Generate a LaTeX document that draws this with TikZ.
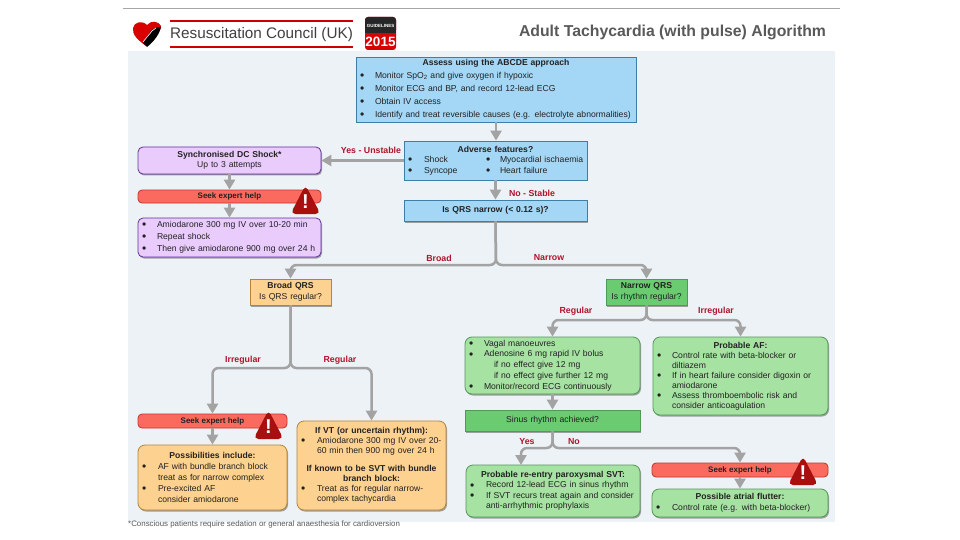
\documentclass[tikz,border=0pt]{standalone}
\usepackage{fontspec}
\setmainfont{Liberation Sans}
\usetikzlibrary{arrows.meta, shadows}

\definecolor{panelbg}{HTML}{EDF2F6}
\definecolor{bluefill}{HTML}{A3D7F5}
\definecolor{blueline}{HTML}{3C7FA8}
\definecolor{purplefill}{HTML}{E9CBFC}
\definecolor{purpleline}{HTML}{63309C}
\definecolor{seekfill}{HTML}{FB6A5E}
\definecolor{seekline}{HTML}{C0352C}
\definecolor{orangefill}{HTML}{FDD18F}
\definecolor{orangeline}{HTML}{B5843A}
\definecolor{greenfill}{HTML}{A6E2A2}
\definecolor{greenline}{HTML}{4F9A55}
\definecolor{greendark}{HTML}{6BCB70}
\definecolor{flowgray}{HTML}{A3A3A3}
\definecolor{labelred}{HTML}{B0142A}
\definecolor{warnred}{HTML}{A81010}
\definecolor{textdark}{HTML}{222222}

\newcommand{\bl}[1][15]{\makebox[#1pt][l]{\raisebox{-1.2pt}[0pt][0pt]{\fontsize{12}{0}\selectfont\textbullet}}}
\newcommand{\ctr}[1]{\makebox[\linewidth]{#1}}

\tikzset{
  box/.style={draw, line width=0.8pt, inner xsep=4pt, inner ysep=0pt, align=left, text=textdark,
    font=\fontsize{8.6}{12}\selectfont,
    drop shadow={shadow xshift=1pt, shadow yshift=-1.5pt, fill=black!60, opacity=0.6}},
  bluebox/.style={box, fill=bluefill, draw=blueline},
  purplebox/.style={box, fill=purplefill, draw=purpleline, rounded corners=5pt},
  orangebox/.style={box, fill=orangefill, draw=orangeline, rounded corners=7pt},
  orangesq/.style={box, fill=orangefill, draw=orangeline},
  greenbox/.style={box, fill=greenfill, draw=greenline, rounded corners=7pt},
  greensq/.style={box, fill=greendark, draw=greenline},
  seekbar/.style={draw=seekline, fill=seekfill, line width=0.8pt, rounded corners=4pt, text=textdark,
    align=center, inner sep=0pt, font=\fontsize{8}{9}\selectfont\bfseries},
  flowarrow/.style={draw=flowgray, line width=2.5pt, rounded corners=6pt,
    -{Triangle[width=11pt,length=10pt]}},
  branchlabel/.style={text=labelred, inner sep=0pt, font=\fontsize{8.8}{10}\selectfont\bfseries},
  warnsign/.pic={
    \fill[warnred, rounded corners=5pt] (0,-15) -- (15,14) -- (-15,14) -- cycle;
    \node[text=white, inner sep=0pt, font=\fontsize{20}{20}\selectfont\bfseries] (-mark) at (0,1.5) {!};
  }
}

\begin{document}
\begin{tikzpicture}[x=1pt, y=-1pt]
  \useasboundingbox (0,0) rectangle (960,540);
  \fill[white] (0,0) rectangle (960,540);

  % Top rule and panel
  \draw[gray!70, line width=1pt] (123,9) -- (840,9);
  \fill[panelbg] (128,51) rectangle (835,522);

  % Logo heart
  \fill[red!85!black] (146,46) .. controls (138,40) and (132,35) .. (133,28)
    .. controls (134,22) and (142,20) .. (147,25)
    .. controls (151,20) and (159,21) .. (161,26)
    .. controls (161,31) and (154,40) .. (146,46);
  \fill[black] (147,47) .. controls (152,43) and (159,36) .. (161,27)
    .. controls (157,27) and (154,28) .. (151,31)
    .. controls (148,35) and (146,39) .. (143,43) -- cycle;
  \draw[white, line width=0.6pt] (143,42) -- (152,31) -- (156,28);

  % Header
  \draw[red!80!black, line width=1.3pt] (170,21) -- (353,21);
  \draw[red!80!black, line width=1.3pt] (170,47) -- (353,47);
  \node[text=black!75, inner sep=0pt, font=\fontsize{15.3}{16}\selectfont] (council) at (261.5,35) {Resuscitation Council (UK)};
  \fill[red!85!black, rounded corners=3pt] (365,17) rectangle (396,50);
  \fill[black!85, rounded corners=3pt] (365,17) rectangle (396,33);
  \fill[black!85] (365,28) rectangle (396,33);
  \node[text=white, inner sep=0pt, font=\fontsize{4.5}{5}\selectfont\bfseries] (badgetop) at (380.5,26) {GUIDELINES};
  \node[text=white, inner sep=0pt, font=\fontsize{13.5}{15}\selectfont\bfseries] (badgeyear) at (380.5,41.5) {2015};
  \node[text=black!65, inner sep=0pt, font=\fontsize{15.8}{17}\selectfont\bfseries] (title) at (672.5,32) {Adult Tachycardia (with pulse) Algorithm};

  % Top column
  \node[bluebox, text width=272pt, minimum height=65pt, font=\fontsize{8.6}{13}\selectfont] (assess) at (496,89.5) {%
    \ctr{\textbf{Assess using the ABCDE approach}}\\
    \bl Monitor SpO\textsubscript{2} and give oxygen if hypoxic\\
    \bl Monitor ECG and BP, and record 12-lead ECG\\
    \bl Obtain IV access\\
    \bl Identify and treat reversible causes (e.g. electrolyte abnormalities)};
  \node[bluebox, text width=175pt, minimum height=39pt, font=\fontsize{8.6}{10.5}\selectfont] (adverse) at (495.5,160.5) {%
    \ctr{\textbf{Adverse features?}}\\
    \bl[16]\makebox[62pt][l]{Shock}\bl[14]\mbox{Myocardial ischaemia}\\
    \bl[16]\makebox[62pt][l]{Syncope}\bl[14]Heart failure};
  \node[bluebox, text width=175pt, minimum height=21pt, align=center] (qrs) at (495.5,210.5) {\textbf{Is QRS narrow (< 0.12 s)?}};

  % Shock column
  \node[purplebox, text width=175pt, minimum height=27pt, align=center, font=\fontsize{8.6}{10.5}\selectfont] (shock) at (229.5,160.5) {%
    \textbf{Synchronised DC Shock*}\\Up to 3 attempts};
  \node[seekbar, minimum width=183pt, minimum height=13pt] (seeka) at (229.5,196.5) {Seek expert help};
  \node[purplebox, text width=175pt, minimum height=39pt] (amio) at (229.5,237.5) {%
    \bl[15]Amiodarone 300 mg IV over 10-20 min\\
    \bl[15]Repeat shock\\
    \bl[15]Then give amiodarone 900 mg over 24 h};

  % Broad side
  \node[orangesq, text width=73pt, minimum height=26pt, align=center, font=\fontsize{8.6}{10.5}\selectfont] (broad) at (290.5,292) {%
    \textbf{Broad QRS}\\Is QRS regular?};
  \node[seekbar, minimum width=149pt, minimum height=14pt] (seekb) at (212.5,421) {Seek expert help};
  \node[orangebox, text width=141pt, minimum height=65pt, font=\fontsize{8.6}{10.8}\selectfont] (possible) at (212.5,477.5) {%
    \ctr{\textbf{Possibilities include:}}\\
    \bl[16]AF with bundle branch block\\
    \hspace*{16pt}treat as for narrow complex\\
    \bl[16]Pre-excited AF\\
    \hspace*{16pt}consider amiodarone};
  \node[orangebox, text width=141pt, minimum height=89pt, font=\fontsize{8.6}{10}\selectfont] (ifvt) at (371.5,465.5) {%
    \ctr{\textbf{If VT (or uncertain rhythm):}}\\
    \bl[16]Amiodarone 300 mg IV over 20-\\
    \hspace*{16pt}60 min then 900 mg over 24 h\\[8pt]
    \ctr{\textbf{If known to be SVT with bundle}}\\
    \ctr{\textbf{branch block:}}\\
    \bl[16]Treat as for regular narrow-\\
    \hspace*{16pt}complex tachycardia};

  % Narrow side
  \node[greensq, text width=73pt, minimum height=26pt, align=center, font=\fontsize{8.6}{10.5}\selectfont] (narrow) at (646.5,292) {%
    \textbf{Narrow QRS}\\Is rhythm regular?};
  \node[greenbox, text width=167pt, minimum height=57pt, font=\fontsize{8.6}{10.8}\selectfont] (vagal) at (552.5,365.5) {%
    \bl[15]Vagal manoeuvres\\
    \bl[15]Adenosine 6 mg rapid IV bolus\\
    \hspace*{25pt}if no effect give 12 mg\\
    \hspace*{25pt}if no effect give further 12 mg\\
    \bl[15]Monitor/record ECG continuously};
  \node[greenbox, text width=167pt, minimum height=78pt, font=\fontsize{8.6}{10}\selectfont] (probaf) at (740.5,376) {%
    \ctr{\textbf{Probable AF:}}\\
    \bl[15]Control rate with beta-blocker or\\
    \hspace*{15pt}diltiazem\\
    \bl[15]If in heart failure consider digoxin or\\
    \hspace*{15pt}amiodarone\\
    \bl[15]Assess thromboembolic risk and\\
    \hspace*{15pt}consider anticoagulation};
  \node[greensq, text width=167pt, minimum height=21pt, align=center] (sinus) at (552.5,420.5) {Sinus rhythm achieved?};
  \node[greenbox, text width=166pt, minimum height=52pt, font=\fontsize{8.6}{10.5}\selectfont] (reentry) at (553,491) {%
    \ctr{\textbf{Probable re-entry paroxysmal SVT:}}\\
    \bl[16]Record 12-lead ECG in sinus rhythm\\
    \bl[16]If SVT recurs treat again and consider\\
    \hspace*{16pt}anti-arrhythmic prophylaxis};
  \node[seekbar, minimum width=176pt, minimum height=14pt] (seekc) at (740,470) {Seek expert help};
  \node[greenbox, text width=168pt, minimum height=28pt, font=\fontsize{8.6}{11}\selectfont] (flutter) at (740,503) {%
    \ctr{\textbf{Possible atrial flutter:}}\\
    \bl[16]Control rate (e.g. with beta-blocker)};

  % Warning signs
  \pic (warna) at (305.5,200) {warnsign};
  \pic (warnb) at (268.5,425) {warnsign};
  \pic (warnc) at (803,471) {warnsign};

  % Junctions
  \coordinate (splitqrs) at (496,265);
  \coordinate (splitbroad) at (290.5,368);
  \coordinate (splitnarrow) at (646.5,320);
  \coordinate (splitsinus) at (552.5,448);
  \coordinate (yesend) at (521,465);

  % Connectors
  \draw[flowarrow] (assess.south) -- (assess.south |- adverse.north);
  \draw[flowarrow] (adverse.west) -- (shock.east);
  \draw[flowarrow] (adverse.south) -- (qrs.north);
  \draw[flowarrow] (shock.south) -- (seeka.north);
  \draw[flowarrow] (seeka.south) -- (amio.north);
  \draw[flowarrow] (qrs.south) -- (splitqrs) -| (broad.north);
  \draw[flowarrow] (qrs.south) -- (splitqrs) -| (narrow.north);
  \draw[flowarrow] (broad.south) -- (splitbroad) -| (seekb.north);
  \draw[flowarrow] (broad.south) -- (splitbroad) -| (ifvt.north);
  \draw[flowarrow] (seekb.south) -- (possible.north);
  \draw[flowarrow] (narrow.south) -- (splitnarrow) -| (vagal.north);
  \draw[flowarrow] (narrow.south) -- (splitnarrow) -| (probaf.north);
  \draw[flowarrow] (vagal.south) -- (sinus.north);
  \draw[flowarrow] (sinus.south) -- (splitsinus) -| (yesend);
  \draw[flowarrow] (sinus.south) -- (splitsinus) -| (seekc.north);
  \draw[flowarrow] (seekc.south) -- (flutter.north);

  % Branch labels
  \node[branchlabel] (lunstable) at (371,150) {Yes - Unstable};
  \node[branchlabel] (lstable) at (532,193) {No - Stable};
  \node[branchlabel] (lbroad) at (439,258) {Broad};
  \node[branchlabel] (lnarrow) at (549,258) {Narrow};
  \node[branchlabel] (lirrega) at (243,360) {Irregular};
  \node[branchlabel] (lrega) at (340,360) {Regular};
  \node[branchlabel] (lregb) at (576,311) {Regular};
  \node[branchlabel] (lirregb) at (716,311) {Irregular};
  \node[branchlabel] (lyes) at (527,442) {Yes};
  \node[branchlabel] (lno) at (574,442) {No};

  % Footnote
  \node[anchor=west, text=black!65, inner sep=0pt, font=\fontsize{7.9}{9}\selectfont] (footnote) at (128,524) {*Conscious patients require sedation or general anaesthesia for cardioversion};
\end{tikzpicture}
\end{document}
